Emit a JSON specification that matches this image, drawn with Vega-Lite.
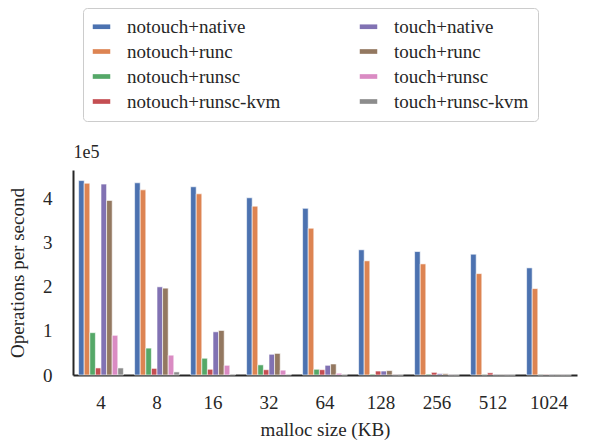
{
  "$schema": "https://vega.github.io/schema/vega-lite/v6.json",
  "width": 504,
  "height": 205,
  "autosize": {"type": "none"},
  "padding": {"left": 73, "top": 170, "right": 18, "bottom": 67},
  "background": "white",
  "title": {"text": "1e5", "anchor": "start", "orient": "top", "font": "Liberation Serif, DejaVu Serif, DejaVu Sans", "fontSize": 18, "fontWeight": "normal", "color": "#262626", "offset": 2, "dy": 156, "dx": 65},
  "data": {"values": [
    {"size": "4", "config": "notouch+native", "ops": 441000},
    {"size": "4", "config": "notouch+runc", "ops": 435000},
    {"size": "4", "config": "notouch+runsc", "ops": 96000},
    {"size": "4", "config": "notouch+runsc-kvm", "ops": 16000},
    {"size": "4", "config": "touch+native", "ops": 433000},
    {"size": "4", "config": "touch+runc", "ops": 396000},
    {"size": "4", "config": "touch+runsc", "ops": 90000},
    {"size": "4", "config": "touch+runsc-kvm", "ops": 16000},
    {"size": "8", "config": "notouch+native", "ops": 436000},
    {"size": "8", "config": "notouch+runc", "ops": 420000},
    {"size": "8", "config": "notouch+runsc", "ops": 61000},
    {"size": "8", "config": "notouch+runsc-kvm", "ops": 15000},
    {"size": "8", "config": "touch+native", "ops": 200000},
    {"size": "8", "config": "touch+runc", "ops": 197000},
    {"size": "8", "config": "touch+runsc", "ops": 45000},
    {"size": "8", "config": "touch+runsc-kvm", "ops": 7000},
    {"size": "16", "config": "notouch+native", "ops": 427000},
    {"size": "16", "config": "notouch+runc", "ops": 411000},
    {"size": "16", "config": "notouch+runsc", "ops": 38000},
    {"size": "16", "config": "notouch+runsc-kvm", "ops": 13000},
    {"size": "16", "config": "touch+native", "ops": 98000},
    {"size": "16", "config": "touch+runc", "ops": 101000},
    {"size": "16", "config": "touch+runsc", "ops": 22000},
    {"size": "16", "config": "touch+runsc-kvm", "ops": 2000},
    {"size": "32", "config": "notouch+native", "ops": 402000},
    {"size": "32", "config": "notouch+runc", "ops": 383000},
    {"size": "32", "config": "notouch+runsc", "ops": 23000},
    {"size": "32", "config": "notouch+runsc-kvm", "ops": 12000},
    {"size": "32", "config": "touch+native", "ops": 47000},
    {"size": "32", "config": "touch+runc", "ops": 49000},
    {"size": "32", "config": "touch+runsc", "ops": 11000},
    {"size": "32", "config": "touch+runsc-kvm", "ops": 1000},
    {"size": "64", "config": "notouch+native", "ops": 378000},
    {"size": "64", "config": "notouch+runc", "ops": 333000},
    {"size": "64", "config": "notouch+runsc", "ops": 13000},
    {"size": "64", "config": "notouch+runsc-kvm", "ops": 12000},
    {"size": "64", "config": "touch+native", "ops": 22000},
    {"size": "64", "config": "touch+runc", "ops": 25000},
    {"size": "64", "config": "touch+runsc", "ops": 4000},
    {"size": "64", "config": "touch+runsc-kvm", "ops": 500},
    {"size": "128", "config": "notouch+native", "ops": 284000},
    {"size": "128", "config": "notouch+runc", "ops": 259000},
    {"size": "128", "config": "notouch+runsc", "ops": 2000},
    {"size": "128", "config": "notouch+runsc-kvm", "ops": 9000},
    {"size": "128", "config": "touch+native", "ops": 9000},
    {"size": "128", "config": "touch+runc", "ops": 10000},
    {"size": "128", "config": "touch+runsc", "ops": 500},
    {"size": "128", "config": "touch+runsc-kvm", "ops": 300},
    {"size": "256", "config": "notouch+native", "ops": 280000},
    {"size": "256", "config": "notouch+runc", "ops": 252000},
    {"size": "256", "config": "notouch+runsc", "ops": 2000},
    {"size": "256", "config": "notouch+runsc-kvm", "ops": 6000},
    {"size": "256", "config": "touch+native", "ops": 3000},
    {"size": "256", "config": "touch+runc", "ops": 3000},
    {"size": "256", "config": "touch+runsc", "ops": 300},
    {"size": "256", "config": "touch+runsc-kvm", "ops": 200},
    {"size": "512", "config": "notouch+native", "ops": 274000},
    {"size": "512", "config": "notouch+runc", "ops": 230000},
    {"size": "512", "config": "notouch+runsc", "ops": 500},
    {"size": "512", "config": "notouch+runsc-kvm", "ops": 5000},
    {"size": "512", "config": "touch+native", "ops": 500},
    {"size": "512", "config": "touch+runc", "ops": 500},
    {"size": "512", "config": "touch+runsc", "ops": 200},
    {"size": "512", "config": "touch+runsc-kvm", "ops": 200},
    {"size": "1024", "config": "notouch+native", "ops": 243000},
    {"size": "1024", "config": "notouch+runc", "ops": 196000},
    {"size": "1024", "config": "notouch+runsc", "ops": 300},
    {"size": "1024", "config": "notouch+runsc-kvm", "ops": 800},
    {"size": "1024", "config": "touch+native", "ops": 300},
    {"size": "1024", "config": "touch+runc", "ops": 300},
    {"size": "1024", "config": "touch+runsc", "ops": 200},
    {"size": "1024", "config": "touch+runsc-kvm", "ops": 200}
  ]},
  "mark": {"type": "bar", "stroke": "white", "strokeWidth": 0.6},
  "encoding": {
    "x": {
      "field": "size", "type": "nominal",
      "sort": ["4", "8", "16", "32", "64", "128", "256", "512", "1024"],
      "scale": {"paddingInner": 0.2, "paddingOuter": 0.1},
      "axis": {"title": "malloc size (KB)", "labelAngle": 0, "ticks": false, "labelPadding": 18, "titlePadding": 8, "domainWidth": 2}
    },
    "xOffset": {
      "field": "config", "type": "nominal",
      "sort": ["notouch+native", "notouch+runc", "notouch+runsc", "notouch+runsc-kvm", "touch+native", "touch+runc", "touch+runsc", "touch+runsc-kvm"]
    },
    "y": {
      "field": "ops", "type": "quantitative",
      "scale": {"domain": [0, 465000], "nice": false},
      "axis": {"title": "Operations per second", "values": [0, 100000, 200000, 300000, 400000], "labelExpr": "format(datum.value / 100000, 'd')", "ticks": false, "labelPadding": 21, "titlePadding": 15, "domainWidth": 2, "grid": false}
    },
    "color": {
      "field": "config", "type": "nominal",
      "scale": {
        "domain": ["notouch+native", "notouch+runc", "notouch+runsc", "notouch+runsc-kvm", "touch+native", "touch+runc", "touch+runsc", "touch+runsc-kvm"],
        "range": ["#4C72B0", "#DD8452", "#55A868", "#C44E52", "#8172B3", "#937860", "#DA8BC3", "#8C8C8C"]
      },
      "legend": {
        "title": null, "orient": "none", "legendX": 10, "legendY": -162,
        "columns": 2, "columnPadding": 78, "rowPadding": 5,
        "symbolType": "M-1.5,-0.4H1.5V0.4H-1.5Z", "symbolSize": 136, "symbolStrokeWidth": 0,
        "labelFont": "Liberation Serif, DejaVu Serif, DejaVu Sans", "labelFontSize": 19, "labelColor": "#262626", "labelOffset": 16, "labelLimit": 400,
        "strokeColor": "#cccccc", "fillColor": "white", "cornerRadius": 4, "padding": 9
      }
    }
  },
  "config": {
    "view": {"stroke": null},
    "title": {"font": "Liberation Serif, DejaVu Serif, DejaVu Sans"},
    "legend": {"labelFont": "Liberation Serif, DejaVu Serif, DejaVu Sans", "labelFontSize": 19},
    "axis": {"labelFont": "Liberation Serif, DejaVu Serif, DejaVu Sans", "titleFont": "Liberation Serif, DejaVu Serif, DejaVu Sans", "labelFontSize": 19, "titleFontSize": 19, "titleFontWeight": "normal", "labelColor": "#262626", "titleColor": "#262626", "domainColor": "#262626"}
  }
}
